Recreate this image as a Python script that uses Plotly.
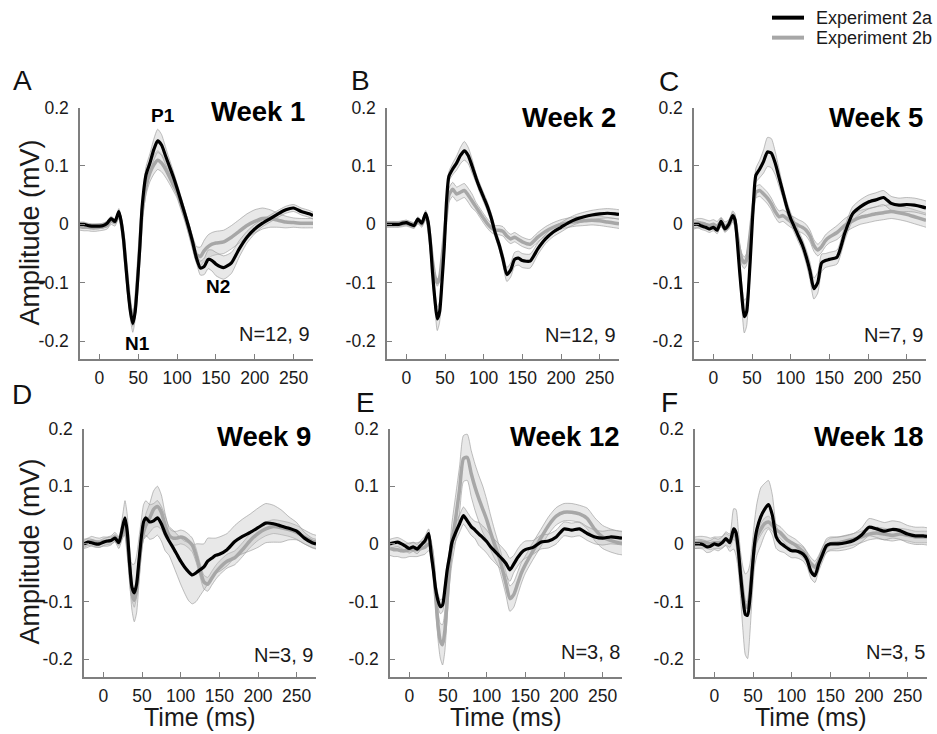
import plotly.graph_objects as go

# ---------------- data (time in ms, amplitude in mV) ----------------
T = [-25, -20, -15, -10, -5, 0, 5, 10, 15, 20, 25,
     28, 31, 34, 37, 40, 43, 46, 49, 52,
     55, 60, 65, 70, 75, 80, 85, 90, 95, 100, 105, 110, 115, 120, 125, 130, 135, 140, 145, 150,
     160, 170, 180, 190, 200, 210, 220, 230, 240, 250, 260, 270,
     275]

# Week 1
A_2a = [0.000, 0.000, -0.002, -0.003, -0.003, -0.003, -0.002, 0.002, 0.010, 0.005, 0.022,
        0.005, -0.025, -0.070, -0.115, -0.150, -0.170, -0.150, -0.100, -0.040,
        0.030, 0.085, 0.105, 0.128, 0.143, 0.136, 0.118, 0.100, 0.082, 0.062, 0.040, 0.018, -0.005, -0.030, -0.058, -0.075, -0.072, -0.060, -0.062, -0.068,
        -0.074, -0.066, -0.042, -0.022, -0.008, 0.002, 0.010, 0.018, 0.025, 0.028, 0.022, 0.018,
        0.015]
A_2a_sem = [0.004, 0.004, 0.004, 0.004, 0.004, 0.004, 0.004, 0.004, 0.004, 0.004, 0.005,
            0.006, 0.008, 0.010, 0.012, 0.014, 0.015, 0.014, 0.012, 0.010,
            0.012, 0.014, 0.016, 0.018, 0.020, 0.018, 0.015, 0.012, 0.010, 0.008, 0.008, 0.008, 0.008, 0.008, 0.008, 0.012, 0.014, 0.016, 0.018, 0.020,
            0.020, 0.018, 0.014, 0.010, 0.008, 0.006, 0.006, 0.006, 0.006, 0.006, 0.006, 0.006,
            0.006]
A_2b = [-0.004, -0.005, -0.005, -0.006, -0.006, -0.005, -0.004, -0.002, 0.006, 0.003, 0.018,
        0.003, -0.025, -0.068, -0.110, -0.145, -0.163, -0.145, -0.095, -0.035,
        0.020, 0.065, 0.088, 0.102, 0.110, 0.105, 0.095, 0.082, 0.068, 0.055, 0.035, 0.015, -0.008, -0.032, -0.052, -0.055, -0.045, -0.038, -0.034, -0.032,
        -0.030, -0.022, -0.012, -0.002, 0.005, 0.010, 0.010, 0.007, 0.004, 0.003, 0.002, 0.002,
        0.002]
A_2b_sem = [0.006, 0.006, 0.006, 0.006, 0.006, 0.006, 0.006, 0.006, 0.006, 0.006, 0.006,
            0.008, 0.008, 0.010, 0.010, 0.012, 0.012, 0.012, 0.010, 0.010,
            0.012, 0.014, 0.015, 0.016, 0.016, 0.015, 0.014, 0.012, 0.010, 0.010, 0.010, 0.010, 0.010, 0.012, 0.014, 0.016, 0.018, 0.020, 0.020, 0.020,
            0.020, 0.020, 0.020, 0.020, 0.020, 0.018, 0.015, 0.012, 0.010, 0.008, 0.008, 0.008,
            0.008]

# Week 2
B_2a = [0.000, 0.000, 0.000, 0.000, 0.002, 0.003, 0.000, -0.002, 0.009, 0.002, 0.019,
        0.005, -0.030, -0.085, -0.130, -0.162, -0.150, -0.100, -0.040, 0.040,
        0.082, 0.095, 0.105, 0.118, 0.126, 0.118, 0.100, 0.080, 0.062, 0.046, 0.030, 0.010, -0.015, -0.035, -0.060, -0.086, -0.078, -0.060, -0.058, -0.062,
        -0.063, -0.042, -0.025, -0.013, -0.005, 0.003, 0.009, 0.013, 0.016, 0.018, 0.019, 0.018,
        0.017]
B_2a_sem = [0.004, 0.004, 0.004, 0.004, 0.004, 0.004, 0.004, 0.004, 0.004, 0.004, 0.005,
            0.006, 0.008, 0.012, 0.016, 0.020, 0.018, 0.014, 0.010, 0.008,
            0.008, 0.010, 0.012, 0.014, 0.016, 0.014, 0.012, 0.008, 0.008, 0.008, 0.008, 0.008, 0.008, 0.008, 0.010, 0.012, 0.012, 0.012, 0.012, 0.012,
            0.012, 0.010, 0.008, 0.008, 0.008, 0.008, 0.008, 0.008, 0.008, 0.008, 0.008, 0.008,
            0.008]
B_2b = [0.000, 0.000, 0.000, 0.000, 0.001, 0.002, 0.000, -0.002, 0.006, 0.000, 0.015,
        0.002, -0.030, -0.065, -0.090, -0.100, -0.092, -0.060, -0.020, 0.020,
        0.050, 0.060, 0.052, 0.055, 0.058, 0.050, 0.040, 0.030, 0.020, 0.010, 0.001, -0.006, -0.010, -0.010, -0.012, -0.020, -0.025, -0.022, -0.026, -0.030,
        -0.034, -0.022, -0.012, -0.005, 0.000, 0.003, 0.005, 0.006, 0.007, 0.006, 0.004, 0.002,
        0.001]
B_2b_sem = [0.005, 0.005, 0.005, 0.005, 0.005, 0.005, 0.005, 0.005, 0.005, 0.005, 0.005,
            0.006, 0.006, 0.006, 0.006, 0.006, 0.006, 0.006, 0.006, 0.006,
            0.012, 0.012, 0.012, 0.012, 0.012, 0.012, 0.012, 0.008, 0.008, 0.008, 0.008, 0.008, 0.008, 0.008, 0.008, 0.008, 0.008, 0.008, 0.008, 0.008,
            0.008, 0.008, 0.008, 0.008, 0.008, 0.008, 0.008, 0.008, 0.008, 0.008, 0.008, 0.008,
            0.008]

# Week 5
C_2a = [0.000, 0.000, -0.003, -0.005, -0.008, -0.005, -0.010, 0.005, -0.008, 0.000, 0.015,
        0.008, -0.030, -0.080, -0.125, -0.158, -0.150, -0.100, -0.030, 0.040,
        0.084, 0.095, 0.108, 0.124, 0.122, 0.105, 0.080, 0.055, 0.030, 0.010, -0.005, -0.020, -0.035, -0.055, -0.080, -0.110, -0.100, -0.066, -0.062, -0.060,
        -0.056, -0.015, 0.018, 0.030, 0.038, 0.042, 0.046, 0.036, 0.033, 0.034, 0.033, 0.030,
        0.028]
C_2a_sem = [0.006, 0.006, 0.006, 0.006, 0.006, 0.006, 0.006, 0.006, 0.006, 0.006, 0.008,
            0.010, 0.012, 0.015, 0.020, 0.028, 0.025, 0.020, 0.015, 0.012,
            0.012, 0.015, 0.020, 0.025, 0.025, 0.020, 0.015, 0.010, 0.010, 0.010, 0.010, 0.010, 0.010, 0.012, 0.015, 0.018, 0.018, 0.015, 0.012, 0.012,
            0.012, 0.012, 0.012, 0.012, 0.012, 0.012, 0.012, 0.012, 0.012, 0.012, 0.012, 0.012,
            0.012]
C_2b = [0.000, 0.002, 0.002, 0.000, -0.002, 0.000, -0.003, 0.004, -0.004, 0.000, 0.012,
        0.005, -0.020, -0.045, -0.060, -0.066, -0.060, -0.035, 0.000, 0.035,
        0.055, 0.058, 0.052, 0.045, 0.035, 0.022, 0.013, 0.015, 0.010, 0.005, 0.002, -0.002, -0.005, -0.010, -0.020, -0.036, -0.044, -0.038, -0.028, -0.022,
        -0.014, -0.002, 0.006, 0.012, 0.015, 0.018, 0.020, 0.022, 0.020, 0.017, 0.013, 0.009,
        0.007]
C_2b_sem = [0.008, 0.008, 0.008, 0.008, 0.008, 0.008, 0.008, 0.008, 0.008, 0.008, 0.008,
            0.010, 0.010, 0.010, 0.010, 0.010, 0.010, 0.010, 0.010, 0.010,
            0.010, 0.010, 0.010, 0.010, 0.010, 0.010, 0.010, 0.010, 0.010, 0.010, 0.010, 0.010, 0.010, 0.010, 0.010, 0.010, 0.010, 0.010, 0.010, 0.010,
            0.012, 0.012, 0.012, 0.012, 0.012, 0.012, 0.012, 0.012, 0.012, 0.012, 0.012, 0.012,
            0.012]

# Week 9
D_2a = [0.000, 0.003, 0.002, 0.000, 0.000, 0.003, 0.005, 0.006, 0.010, 0.002, 0.030,
        0.045, 0.020, -0.035, -0.075, -0.085, -0.070, -0.030, 0.010, 0.038,
        0.045, 0.038, 0.040, 0.045, 0.035, 0.018, 0.005, -0.006, -0.018, -0.030, -0.040, -0.048, -0.054, -0.050, -0.045, -0.040, -0.030, -0.025, -0.020, -0.018,
        -0.010, 0.004, 0.013, 0.020, 0.028, 0.036, 0.035, 0.031, 0.027, 0.022, 0.010, 0.002,
        0.000]
D_2a_sem = [0.006, 0.006, 0.006, 0.006, 0.006, 0.006, 0.006, 0.006, 0.006, 0.010, 0.020,
            0.030, 0.030, 0.030, 0.040, 0.050, 0.050, 0.040, 0.030, 0.030,
            0.030, 0.030, 0.030, 0.030, 0.030, 0.030, 0.025, 0.030, 0.035, 0.040, 0.045, 0.050, 0.050, 0.050, 0.045, 0.040, 0.040, 0.035, 0.030, 0.030,
            0.028, 0.028, 0.030, 0.032, 0.034, 0.034, 0.032, 0.028, 0.020, 0.015, 0.010, 0.008,
            0.008]
D_2b = [0.000, 0.002, 0.005, 0.003, 0.002, 0.004, 0.004, 0.006, 0.012, 0.005, 0.020,
        0.030, 0.000, -0.040, -0.085, -0.098, -0.080, -0.040, 0.000, 0.020,
        0.032, 0.045, 0.060, 0.065, 0.055, 0.032, 0.015, 0.010, 0.010, 0.012, 0.010, 0.005, -0.002, -0.020, -0.045, -0.066, -0.070, -0.060, -0.050, -0.042,
        -0.030, -0.024, -0.010, 0.006, 0.018, 0.026, 0.030, 0.028, 0.025, 0.020, 0.012, 0.005,
        0.003]
D_2b_sem = [0.008, 0.008, 0.008, 0.008, 0.008, 0.008, 0.008, 0.008, 0.008, 0.008, 0.008,
            0.012, 0.012, 0.012, 0.012, 0.012, 0.012, 0.012, 0.012, 0.012,
            0.020, 0.025, 0.032, 0.035, 0.030, 0.020, 0.012, 0.012, 0.012, 0.012, 0.012, 0.012, 0.012, 0.012, 0.012, 0.012, 0.012, 0.012, 0.012, 0.012,
            0.012, 0.012, 0.012, 0.012, 0.012, 0.012, 0.012, 0.012, 0.012, 0.012, 0.012, 0.012,
            0.012]

# Week 12
E_2a = [0.000, 0.002, 0.003, 0.000, -0.004, -0.008, -0.005, -0.009, -0.002, 0.005, 0.018,
        -0.015, -0.045, -0.078, -0.098, -0.109, -0.106, -0.078, -0.045, -0.022,
        0.002, 0.020, 0.035, 0.049, 0.040, 0.030, 0.024, 0.017, 0.011, 0.004, -0.005, -0.012, -0.019, -0.026, -0.034, -0.045, -0.035, -0.024, -0.015, -0.010,
        -0.006, 0.003, 0.005, 0.012, 0.026, 0.024, 0.026, 0.018, 0.012, 0.010, 0.012, 0.011,
        0.010]
E_2a_sem = [0.008, 0.008, 0.008, 0.008, 0.008, 0.008, 0.008, 0.008, 0.008, 0.008, 0.008,
            0.012, 0.012, 0.012, 0.012, 0.012, 0.012, 0.012, 0.012, 0.012,
            0.015, 0.015, 0.015, 0.015, 0.015, 0.015, 0.015, 0.020, 0.020, 0.020, 0.020, 0.020, 0.020, 0.020, 0.020, 0.020, 0.015, 0.015, 0.015, 0.015,
            0.012, 0.012, 0.012, 0.012, 0.012, 0.012, 0.012, 0.012, 0.012, 0.012, 0.012, 0.012,
            0.012]
E_2b = [-0.008, -0.010, -0.010, -0.012, -0.012, -0.010, -0.010, -0.010, -0.008, -0.006, 0.000,
        -0.005, -0.035, -0.090, -0.140, -0.168, -0.175, -0.150, -0.095, -0.040,
        0.000, 0.045, 0.095, 0.148, 0.150, 0.122, 0.098, 0.078, 0.060, 0.042, 0.020, 0.000, -0.018, -0.042, -0.069, -0.095, -0.088, -0.069, -0.050, -0.036,
        -0.012, 0.010, 0.032, 0.048, 0.055, 0.055, 0.052, 0.044, 0.025, 0.012, 0.006, 0.002,
        0.001]
E_2b_sem = [0.012, 0.012, 0.012, 0.012, 0.012, 0.012, 0.012, 0.012, 0.012, 0.012, 0.012,
            0.012, 0.015, 0.020, 0.025, 0.030, 0.035, 0.035, 0.030, 0.030,
            0.035, 0.040, 0.040, 0.040, 0.040, 0.040, 0.040, 0.040, 0.040, 0.035, 0.030, 0.025, 0.020, 0.020, 0.020, 0.022, 0.022, 0.020, 0.018, 0.015,
            0.015, 0.015, 0.015, 0.015, 0.015, 0.015, 0.015, 0.018, 0.020, 0.020, 0.020, 0.020,
            0.020]

# Week 18
F_2a = [0.000, 0.000, -0.001, -0.005, -0.004, 0.000, -0.002, 0.002, 0.009, 0.002, 0.026,
        0.020, -0.010, -0.055, -0.095, -0.122, -0.124, -0.095, -0.045, 0.000,
        0.025, 0.047, 0.060, 0.068, 0.050, 0.012, 0.002, -0.003, -0.008, -0.012, -0.012, -0.014, -0.018, -0.028, -0.048, -0.055, -0.035, -0.018, -0.003, 0.000,
        0.000, 0.002, 0.006, 0.015, 0.029, 0.026, 0.022, 0.025, 0.023, 0.017, 0.014, 0.014,
        0.013]
F_2a_sem = [0.008, 0.008, 0.008, 0.010, 0.010, 0.010, 0.010, 0.010, 0.012, 0.015, 0.035,
            0.040, 0.035, 0.040, 0.055, 0.070, 0.075, 0.060, 0.045, 0.040,
            0.045, 0.050, 0.045, 0.042, 0.035, 0.020, 0.015, 0.012, 0.012, 0.012, 0.012, 0.012, 0.012, 0.012, 0.012, 0.012, 0.012, 0.012, 0.012, 0.012,
            0.012, 0.012, 0.012, 0.012, 0.015, 0.015, 0.015, 0.015, 0.015, 0.015, 0.015, 0.015,
            0.015]
F_2b = [0.002, 0.003, 0.003, 0.002, 0.000, 0.002, 0.002, 0.003, 0.008, 0.004, 0.018,
        0.012, -0.015, -0.050, -0.085, -0.108, -0.110, -0.085, -0.040, -0.005,
        0.012, 0.025, 0.035, 0.038, 0.032, 0.024, 0.020, 0.013, 0.006, 0.002, -0.002, -0.008, -0.014, -0.024, -0.034, -0.040, -0.030, -0.015, -0.005, 0.000,
        0.002, 0.005, 0.008, 0.012, 0.017, 0.019, 0.017, 0.015, 0.017, 0.015, 0.012, 0.012,
        0.012]
F_2b_sem = [0.010, 0.010, 0.010, 0.010, 0.010, 0.010, 0.010, 0.010, 0.010, 0.010, 0.010,
            0.010, 0.010, 0.010, 0.010, 0.010, 0.010, 0.010, 0.010, 0.010,
            0.010, 0.010, 0.010, 0.010, 0.010, 0.010, 0.010, 0.010, 0.010, 0.010, 0.010, 0.010, 0.010, 0.010, 0.010, 0.010, 0.010, 0.010, 0.010, 0.010,
            0.010, 0.010, 0.010, 0.010, 0.010, 0.010, 0.010, 0.010, 0.010, 0.010, 0.010, 0.010,
            0.010]

PANEL_LETTERS = ["A", "B", "C", "D", "E", "F"]
WEEK_TITLES = ["Week 1", "Week 2", "Week 5", "Week 9", "Week 12", "Week 18"]
N_LABELS = ["N=12, 9", "N=12, 9", "N=7, 9", "N=3, 9", "N=3, 8", "N=3, 5"]
SERIES_2A = [A_2a, B_2a, C_2a, D_2a, E_2a, F_2a]
SEM_2A = [A_2a_sem, B_2a_sem, C_2a_sem, D_2a_sem, E_2a_sem, F_2a_sem]
SERIES_2B = [A_2b, B_2b, C_2b, D_2b, E_2b, F_2b]
SEM_2B = [A_2b_sem, B_2b_sem, C_2b_sem, D_2b_sem, E_2b_sem, F_2b_sem]
LEGEND_NAMES = ["Experiment 2a", "Experiment 2b"]

X_TICKS = [0, 50, 100, 150, 200, 250]
Y_TICKS = [-0.2, -0.1, 0, 0.1, 0.2]
Y_TICK_LABELS = ["-0.2", "-0.1", "0", "0.1", "0.2"]
X_RANGE = [-25, 275]
Y_RANGE = [-0.23, 0.2]

# ---------------- layout helpers ----------------
W, H = 937, 734
# the photographed page comes out slightly offset / squeezed vertically; compensate
SY, OY = 1.0136, 11.5
FONT = "Arial, Liberation Sans, Helvetica, sans-serif"
BLACK = "#000000"
GREY = "#a7a7a7"
AXIS_GREY = "#7f7f7f"
BAND_FILL = "rgba(190,190,190,0.36)"
BAND_EDGE = "rgba(150,150,150,0.75)"


def fx(p):
    return p / W


def fy(p):
    return 1 - (p * SY - OY) / H


COL_DOM = [[(80, 313), (387, 619), (694, 926)],
           [(84, 316), (390, 622), (695, 927)]]
ROW_DOM = [(109, 360), (430, 678)]

fig = go.Figure()
layout = dict(width=W, height=H, margin=dict(l=0, r=0, t=0, b=0),
              paper_bgcolor="white", plot_bgcolor="white", showlegend=False,
              font=dict(family=FONT, color="#1a1a1a"))

for i in range(6):
    r, c = divmod(i, 3)
    sfx = "" if i == 0 else str(i + 1)
    xa, ya = "x" + sfx, "y" + sfx
    x0, x1 = COL_DOM[r][c]
    yt, yb = ROW_DOM[r]
    layout["xaxis" + sfx] = dict(
        domain=[fx(x0), fx(x1)], anchor=ya, range=X_RANGE, tickvals=X_TICKS,
        showline=True, linecolor=AXIS_GREY, linewidth=1.5, ticks="inside", ticklen=5,
        tickcolor=AXIS_GREY, tickwidth=1.2, showgrid=False, zeroline=False,
        tickfont=dict(size=17.5, family=FONT, color="#1a1a1a"), ticklabelstandoff=3)
    layout["yaxis" + sfx] = dict(
        domain=[fy(yb), fy(yt)], anchor=xa, range=Y_RANGE, tickvals=Y_TICKS, ticktext=Y_TICK_LABELS,
        showline=True, linecolor=AXIS_GREY, linewidth=1.5, ticks="inside", ticklen=5,
        tickcolor=AXIS_GREY, tickwidth=1.2, showgrid=False, zeroline=False,
        tickfont=dict(size=17.5, family=FONT, color="#1a1a1a"), ticklabelstandoff=6)

    for mean, sem in ((SERIES_2B[i], SEM_2B[i]), (SERIES_2A[i], SEM_2A[i])):
        upper = [m + s for m, s in zip(mean, sem)]
        lower = [m - s for m, s in zip(mean, sem)]
        fig.add_trace(go.Scatter(x=T, y=upper, xaxis=xa, yaxis=ya, mode="lines",
                                 line=dict(color=BAND_EDGE, width=0.8, shape="spline", smoothing=0.6),
                                 hoverinfo="skip"))
        fig.add_trace(go.Scatter(x=T, y=lower, xaxis=xa, yaxis=ya, mode="lines", fill="tonexty",
                                 fillcolor=BAND_FILL,
                                 line=dict(color=BAND_EDGE, width=0.8, shape="spline", smoothing=0.6),
                                 hoverinfo="skip"))
    fig.add_trace(go.Scatter(x=T, y=SERIES_2B[i], xaxis=xa, yaxis=ya, mode="lines",
                             name=LEGEND_NAMES[1],
                             line=dict(color=GREY, width=3.5, shape="spline", smoothing=0.6)))
    fig.add_trace(go.Scatter(x=T, y=SERIES_2A[i], xaxis=xa, yaxis=ya, mode="lines",
                             name=LEGEND_NAMES[0],
                             line=dict(color=BLACK, width=3.2, shape="spline", smoothing=0.6)))

annotations = []
LETTER_POS = [(22, 82), (360, 82), (669, 83), (22, 396), (365, 404), (669, 404)]
WEEK_POS = [(307, 113), (618, 119), (925, 119), (313, 438), (622, 438), (926, 438)]
N_POS = [(312, 335), (618, 336), (925, 336), (315, 656), (622, 653), (927, 653)]
for i in range(6):
    lx, ly = LETTER_POS[i]
    annotations.append(dict(text=PANEL_LETTERS[i], x=fx(lx), y=fy(ly), xref="paper", yref="paper",
                            showarrow=False, xanchor="center", yanchor="middle",
                            font=dict(size=28, family=FONT, color="#111")))
    wx, wy = WEEK_POS[i]
    annotations.append(dict(text="<b>" + WEEK_TITLES[i] + "</b>", x=fx(wx), y=fy(wy), xref="paper", yref="paper",
                            showarrow=False, xanchor="right", yanchor="middle",
                            font=dict(size=27.5, family=FONT, color="#000")))
    nx, ny = N_POS[i]
    annotations.append(dict(text=N_LABELS[i], x=fx(nx), y=fy(ny), xref="paper", yref="paper",
                            showarrow=False, xanchor="right", yanchor="middle",
                            font=dict(size=20, family=FONT, color="#1a1a1a")))

# component labels in panel A
for txt, (px_, py_) in (("P1", (163, 117)), ("N1", (137, 345)), ("N2", (218, 288))):
    annotations.append(dict(text="<b>" + txt + "</b>", x=fx(px_), y=fy(py_), xref="paper", yref="paper",
                            showarrow=False, xanchor="center", yanchor="middle",
                            font=dict(size=19, family=FONT, color="#000")))

# axis titles
for ycen in (234, 553):
    annotations.append(dict(text="Amplitude (mV)", x=fx(30), y=fy(ycen), xref="paper", yref="paper",
                            showarrow=False, textangle=-90, xanchor="center", yanchor="middle",
                            font=dict(size=27, family=FONT, color="#1a1a1a")))
for xcen in (200, 506, 811):
    annotations.append(dict(text="Time (ms)", x=fx(xcen), y=fy(718), xref="paper", yref="paper",
                            showarrow=False, xanchor="center", yanchor="middle",
                            font=dict(size=25, family=FONT, color="#1a1a1a")))

# legend (top right)
shapes = []
for k, (col, wid, yy) in enumerate(((BLACK, 4, 19), (GREY, 4, 39))):
    shapes.append(dict(type="line", xref="paper", yref="paper", x0=fx(772), x1=fx(804),
                       y0=fy(yy), y1=fy(yy), line=dict(color=col, width=wid)))
    annotations.append(dict(text=LEGEND_NAMES[k], x=fx(814), y=fy(yy), xref="paper", yref="paper",
                            showarrow=False, xanchor="left", yanchor="middle",
                            font=dict(size=18, family=FONT, color="#1a1a1a")))

layout["annotations"] = annotations
layout["shapes"] = shapes
fig.update_layout(**layout)
fig.write_html("out.html", config={"displayModeBar": False},
               post_script="document.documentElement.style.margin='0';document.body.style.margin='0';"
                           "document.body.style.padding='0';document.body.style.overflow='hidden';"
                           "var d=document.getElementById('{plot_id}');d.style.position='absolute';"
                           "d.style.top='0px';d.style.left='0px';")
